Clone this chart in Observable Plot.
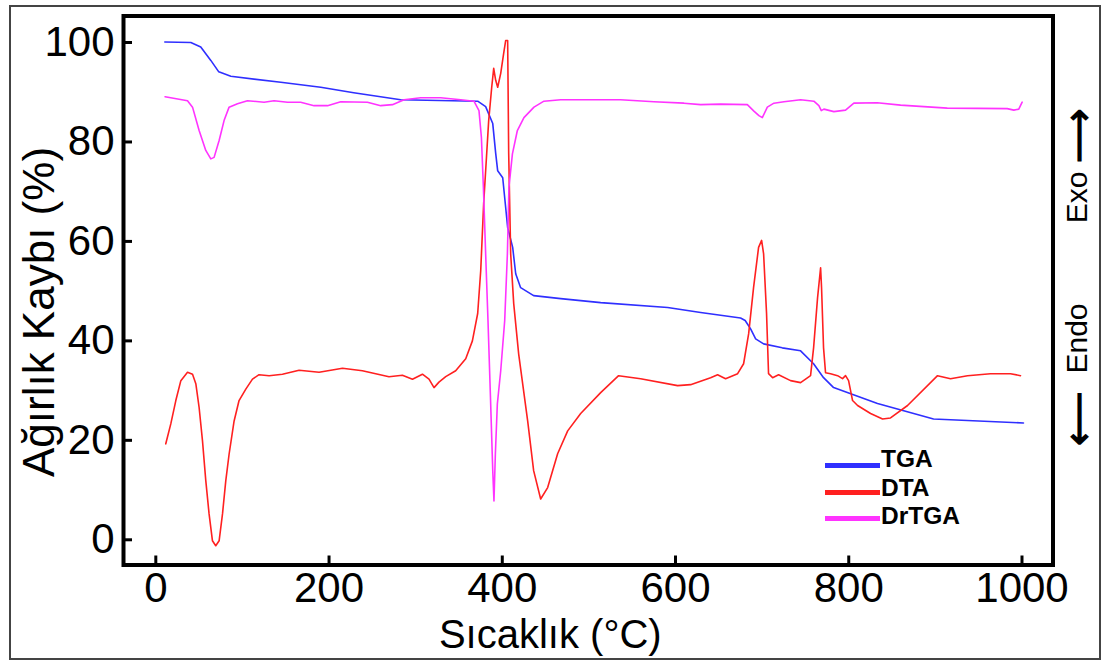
<!DOCTYPE html>
<html>
<head>
<meta charset="utf-8">
<script src="https://cdn.jsdelivr.net/npm/d3@7"></script>
<script src="https://cdn.jsdelivr.net/npm/@observablehq/plot@0.6"></script>
<style>
  html, body { margin: 0; padding: 0; background: #fff; }
  #wrap { position: relative; width: 1101px; height: 662px; overflow: hidden; }
  #border { position: absolute; left: 9px; top: 5px; width: 1088px; height: 651px; border: 2px solid #444; box-sizing: content-box; pointer-events: none; }
  .sw { position: absolute; left: 825px; width: 55px; height: 5px; }
  .lt { position: absolute; left: 881px; font-family: 'Liberation Sans', Arial, sans-serif; font-weight: 700; font-size: 24.5px; line-height: 24.5px; white-space: nowrap; color: #000; }
</style>
</head>
<body>
<div id="wrap"><div id="border"></div></div>
<script>
// ---- data ----
const xTicks = [0, 200, 400, 600, 800, 1000];
const yTicks = [0, 20, 40, 60, 80, 100];

const seriesNames = ["TGA", "DTA", "DrTGA"];
const seriesColors = ["#2f2fff", "#ff2020", "#ff33ff"];

const tgaT = [10.4, 40.4, 51.9, 63.5, 72.7, 86.6, 144.3, 190.4, 228.5, 282.7, 371.6, 380.8, 389.0, 392.4, 394.7, 400.5, 406.2, 412.0, 415.5, 421.2, 436.2, 467.4, 490.5, 513.6, 590.9, 629.0, 675.1, 680.4, 686.7, 692.5, 701.7, 723.2, 744.4, 759.4, 770.9, 782.5, 833.2, 897.9, 1001.7];
const tgaV = [100.1, 100.0, 99.1, 96.4, 94.1, 93.2, 92.0, 91.0, 89.9, 88.5, 88.2, 87.1, 83.7, 77.7, 74.2, 72.8, 62.8, 58.8, 53.5, 50.7, 49.1, 48.5, 48.1, 47.7, 46.7, 45.7, 44.6, 44.1, 42.4, 40.4, 39.4, 38.6, 38.0, 35.4, 32.6, 30.6, 27.4, 24.3, 23.5];

const dtaT = [11.5, 17.3, 23.1, 28.9, 36.6, 42.4, 46.2, 50.0, 53.9, 57.7, 61.5, 65.4, 69.2, 73.1, 77.0, 80.8, 84.6, 90.4, 96.1, 103.9, 111.6, 119.2, 130.8, 146.2, 165.4, 188.5, 215.5, 238.5, 269.2, 284.7, 296.3, 307.8, 315.4, 321.2, 326.9, 334.7, 346.2, 357.8, 365.5, 371.6, 375.1, 378.5, 380.8, 384.3, 387.8, 390.1, 392.4, 394.7, 398.2, 401.6, 403.9, 406.2, 407.4, 409.7, 413.2, 418.9, 429.3, 436.2, 444.3, 452.4, 463.9, 475.5, 490.5, 513.6, 534.3, 559.7, 602.4, 617.4, 640.5, 648.6, 657.8, 671.7, 678.6, 684.4, 690.1, 695.9, 699.4, 701.7, 705.1, 707.4, 712.1, 719.0, 732.8, 744.4, 755.9, 759.4, 764.0, 767.5, 768.6, 770.9, 773.2, 779.0, 787.1, 792.8, 796.3, 799.8, 804.4, 810.2, 825.2, 839.0, 848.2, 867.9, 902.5, 917.5, 937.1, 963.6, 986.7, 998.3];
const dtaV = [19.3, 23.3, 28.0, 32.0, 33.7, 33.3, 31.4, 26.6, 19.9, 11.9, 5.2, -0.2, -1.2, -0.2, 5.2, 11.9, 17.2, 23.9, 28.0, 30.3, 32.3, 33.2, 33.0, 33.3, 34.1, 33.7, 34.5, 34.0, 32.8, 33.1, 32.3, 33.3, 32.3, 30.6, 31.7, 32.8, 34.0, 36.4, 40.0, 45.5, 54.1, 67.6, 74.2, 84.3, 91.0, 94.8, 92.4, 91.0, 93.8, 97.8, 100.4, 100.4, 77.7, 57.5, 47.5, 37.4, 23.9, 13.9, 8.2, 10.5, 17.3, 21.9, 25.4, 29.6, 33.0, 32.4, 31.0, 31.2, 32.6, 33.2, 32.4, 33.4, 35.4, 41.4, 50.7, 58.8, 60.2, 57.5, 45.5, 33.4, 32.6, 33.2, 32.0, 31.6, 33.0, 38.6, 48.7, 54.7, 50.7, 38.6, 33.6, 33.4, 33.0, 32.4, 33.0, 32.0, 28.0, 27.0, 25.4, 24.3, 24.5, 27.0, 33.0, 32.4, 33.0, 33.4, 33.4, 33.0];

const drT = [10.7, 36.6, 42.4, 50.0, 57.7, 63.5, 67.3, 73.1, 78.8, 84.6, 94.3, 105.8, 125.0, 136.5, 152.0, 167.3, 182.7, 198.2, 213.5, 244.3, 259.7, 273.2, 286.6, 305.8, 328.9, 352.0, 367.3, 373.1, 375.9, 378.2, 380.8, 383.5, 386.6, 389.0, 390.4, 392.0, 394.3, 398.2, 402.8, 405.9, 407.7, 411.7, 417.4, 425.0, 436.6, 448.1, 467.4, 490.5, 536.6, 575.1, 609.7, 629.0, 652.0, 682.9, 690.5, 696.3, 700.2, 706.0, 713.6, 725.2, 744.4, 759.7, 765.5, 768.3, 771.3, 782.8, 796.3, 805.9, 832.9, 859.8, 913.7, 982.9, 990.6, 996.3, 1000.2];
const drV = [89.1, 88.3, 87.0, 82.3, 78.3, 76.6, 76.9, 80.3, 84.3, 87.0, 87.7, 88.3, 88.0, 88.3, 88.0, 88.0, 87.3, 87.3, 88.1, 88.0, 87.3, 87.5, 88.5, 88.9, 88.9, 88.5, 88.2, 86.3, 80.9, 70.9, 57.5, 44.1, 27.3, 13.9, 7.8, 17.2, 27.3, 34.0, 44.1, 57.5, 70.9, 77.6, 82.3, 84.9, 87.0, 88.2, 88.5, 88.5, 88.5, 88.1, 87.8, 87.5, 87.6, 87.5, 86.2, 85.3, 84.9, 87.0, 87.8, 88.1, 88.5, 88.2, 87.3, 86.3, 86.6, 86.1, 86.4, 87.8, 87.9, 87.4, 86.8, 86.7, 86.4, 86.6, 88.0];

const xLabel = "Sıcaklık (°C)";
const yLabel = "Ağırlık Kaybı (%)";
const exoLabel = "Exo";
const endoLabel = "Endo";
const upArrow = "⟶";
const downArrow = "⟵";

// ---- build tables ----
const toRows = (T, V) => T.map((t, i) => ({t, v: V[i]}));
const series = [toRows(tgaT, tgaV), toRows(dtaT, dtaV), toRows(drT, drV)];

const W = 1101, H = 662;
const mL = 123, mR = 48.5, mT = 15.5, mB = 97.5;
const plotW = W - mL - mR, plotH = H - mT - mB;
const font = "'Liberation Sans', Arial, sans-serif";

const chart = Plot.plot({
  width: W, height: H,
  marginLeft: mL, marginRight: mR, marginTop: mT, marginBottom: mB,
  style: {fontFamily: font, background: "transparent", color: "#000", overflow: "visible"},
  x: {domain: [-37.3, 1035.8]},
  y: {domain: [-5.07, 105.33]},
  marks: [
    Plot.axisX({ticks: xTicks, tickSize: 0, tickPadding: 7, fontSize: 42, label: null, tickFormat: d => String(d)}),
    Plot.axisY({ticks: yTicks, tickSize: 0, tickPadding: 9, fontSize: 42, label: null, tickFormat: d => String(d)}),
    Plot.tickX(xTicks, {x: d => d, stroke: "#000", strokeWidth: 3, insetTop: plotH - 9}),
    Plot.tickY(yTicks, {y: d => d, stroke: "#000", strokeWidth: 3, insetRight: plotW - 9}),
    ...series.map((rows, i) => Plot.line(rows, {x: "t", y: "v", stroke: seriesColors[i], strokeWidth: 1.6, curve: "linear"})),
    Plot.frame({stroke: "#000", strokeWidth: 4}),
    Plot.text([xLabel], {frameAnchor: "bottom", textAnchor: "middle", lineAnchor: "bottom", dx: -38, dy: 82.5, fontSize: 40, fill: "#000"}),
    Plot.text([yLabel], {frameAnchor: "left", textAnchor: "middle", lineAnchor: "middle", dx: -84, dy: 21.5, rotate: -90, fontSize: 44, fill: "#000"}),
    Plot.text([exoLabel], {frameAnchor: "right", textAnchor: "middle", lineAnchor: "middle", dx: 24.5, dy: -93, rotate: -90, fontSize: 30, fill: "#000"}),
    Plot.text([endoLabel], {frameAnchor: "right", textAnchor: "middle", lineAnchor: "middle", dx: 24.5, dy: 48, rotate: -90, fontSize: 30, fill: "#000"}),
    Plot.text([upArrow], {frameAnchor: "right", textAnchor: "middle", lineAnchor: "middle", dx: 25.5, dy: -155, rotate: -90, fontSize: 38, fontWeight: "bold", fill: "#000"}),
    Plot.text([downArrow], {frameAnchor: "right", textAnchor: "middle", lineAnchor: "middle", dx: 25.5, dy: 128, rotate: -90, fontSize: 38, fontWeight: "bold", fill: "#000"})
  ]
});
chart.style.position = "absolute";
chart.style.left = "0px";
chart.style.top = "0px";
const wrap = document.getElementById("wrap");
wrap.appendChild(chart);

// legend (inside plot area, lower right)
const swCenters = [465, 492, 518];
const txTops = [447, 475.5, 504];
seriesNames.forEach((name, i) => {
  const sw = document.createElement("div");
  sw.className = "sw";
  sw.style.top = (swCenters[i] - 2.5) + "px";
  sw.style.background = seriesColors[i];
  const tx = document.createElement("div");
  tx.className = "lt";
  tx.style.top = txTops[i] + "px";
  tx.textContent = name;
  wrap.appendChild(sw);
  wrap.appendChild(tx);
});
</script>
</body>
</html>
